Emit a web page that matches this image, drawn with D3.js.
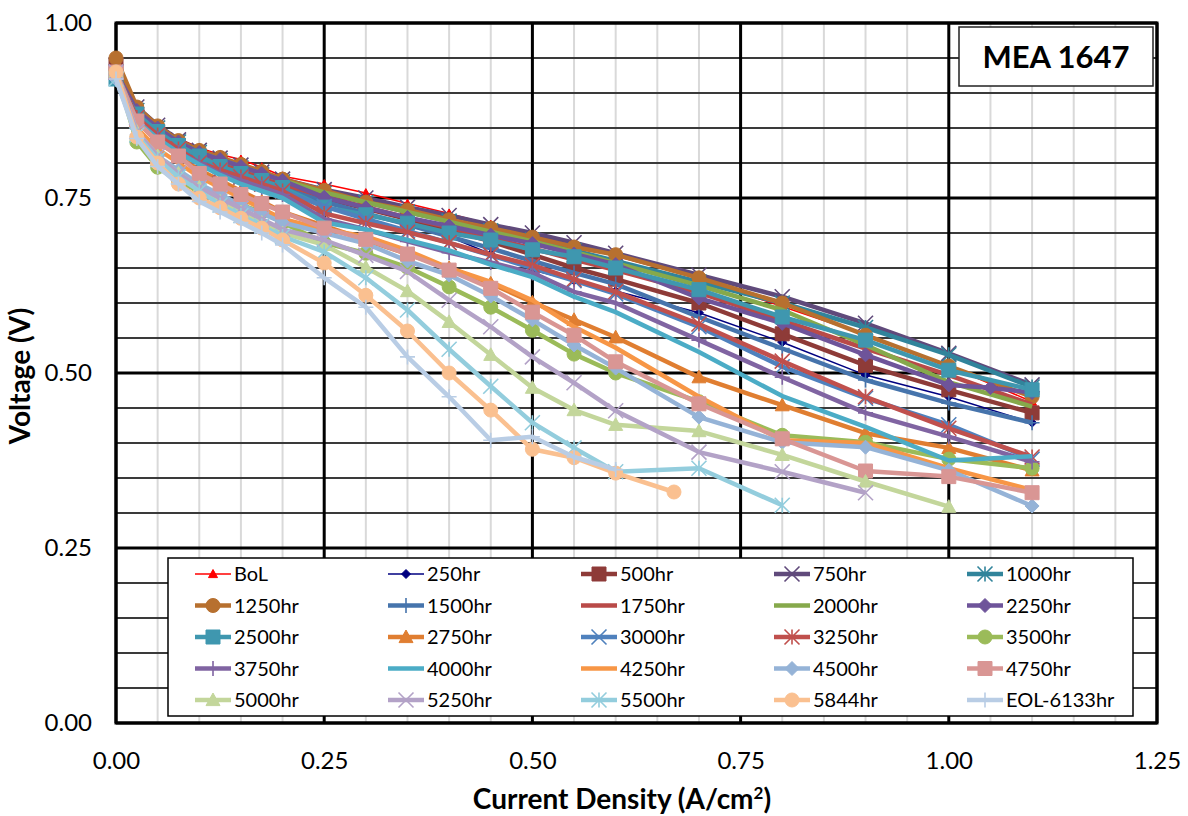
<!DOCTYPE html>
<html lang="en">
<head>
<meta charset="UTF-8">
<title>MEA 1647</title>
<script src="https://cdn.jsdelivr.net/npm/d3@7"></script>
<style>
    body { margin: 0; background: #fff; font-family: Lato, "Open Sans", sans-serif; }
</style>
</head>
<body>
<svg id="chart" width="1188" height="816"></svg>
<script>
// current density points (A/cm2); 0.67 and 1.05 are used by only one series each
const currentDensity = [0, 0.025, 0.05, 0.075, 0.1, 0.125, 0.15, 0.175, 0.2, 0.25, 0.3, 0.35, 0.4, 0.45, 0.5, 0.55, 0.6, 0.67, 0.7, 0.8, 0.9, 1.0, 1.05, 1.1];

const vBoL  = [0.95, 0.878, 0.852, 0.835, 0.822, 0.812, 0.805, 0.794, 0.781, 0.770, 0.757, 0.742, 0.728, 0.712, 0.697, 0.682, 0.667, null, 0.635, 0.595, 0.555, 0.510, null, 0.459];
const v250  = [0.93, 0.870, 0.845, 0.825, 0.810, 0.798, 0.786, 0.774, 0.757, 0.743, 0.728, 0.713, 0.695, 0.670, 0.647, 0.632, 0.617, null, 0.586, 0.544, 0.497, 0.466, null, 0.429];
const v500  = [0.94, 0.870, 0.845, 0.825, 0.810, 0.800, 0.790, 0.780, 0.770, 0.750, 0.735, 0.720, 0.705, 0.688, 0.669, 0.650, 0.634, null, 0.600, 0.556, 0.511, 0.476, null, 0.443];
const v750  = [0.94, 0.880, 0.854, 0.833, 0.818, 0.807, 0.797, 0.787, 0.777, 0.762, 0.750, 0.737, 0.725, 0.712, 0.700, 0.686, 0.671, null, 0.640, 0.609, 0.571, 0.528, null, 0.483];
const v1000 = [0.93, 0.875, 0.850, 0.830, 0.815, 0.803, 0.793, 0.783, 0.773, 0.757, 0.744, 0.730, 0.717, 0.703, 0.690, 0.675, 0.660, null, 0.630, 0.600, 0.565, 0.526, null, 0.480];
const v1250 = [0.95, 0.880, 0.853, 0.832, 0.818, 0.808, 0.798, 0.788, 0.777, 0.761, 0.744, 0.733, 0.719, 0.707, 0.694, 0.680, 0.669, null, 0.636, 0.600, 0.554, 0.510, null, 0.466];
const v1500 = [0.92, 0.865, 0.840, 0.820, 0.805, 0.795, 0.785, 0.775, 0.765, 0.745, 0.728, 0.712, 0.695, 0.678, 0.660, 0.643, 0.627, null, 0.580, 0.535, 0.490, 0.457, null, 0.429];
const v1750 = [0.93, 0.870, 0.845, 0.825, 0.810, 0.800, 0.790, 0.780, 0.770, 0.752, 0.737, 0.722, 0.708, 0.693, 0.678, 0.662, 0.647, null, 0.615, 0.575, 0.535, 0.497, null, 0.455];
const v2000 = [0.93, 0.870, 0.850, 0.830, 0.815, 0.805, 0.795, 0.785, 0.775, 0.758, 0.744, 0.730, 0.716, 0.702, 0.688, 0.673, 0.657, null, 0.625, 0.590, 0.540, 0.487, null, 0.452];
const v2250 = [0.93, 0.875, 0.850, 0.830, 0.815, 0.805, 0.795, 0.785, 0.775, 0.751, 0.736, 0.722, 0.710, 0.697, 0.685, 0.670, 0.655, null, 0.607, 0.571, 0.526, 0.483, 0.479, 0.472];
const v2500 = [0.92, 0.870, 0.845, 0.825, 0.810, 0.795, 0.785, 0.775, 0.765, 0.737, 0.726, 0.714, 0.700, 0.690, 0.676, 0.666, 0.650, null, 0.619, 0.580, 0.547, 0.504, null, 0.476];
const v2750 = [0.93, 0.860, 0.830, 0.810, 0.790, 0.775, 0.760, 0.745, 0.730, 0.710, 0.690, 0.670, 0.650, 0.628, 0.601, 0.576, 0.551, null, 0.494, 0.454, 0.414, 0.393, null, 0.361];
const v3000 = [0.93, 0.865, 0.840, 0.820, 0.800, 0.790, 0.780, 0.770, 0.760, 0.738, 0.720, 0.703, 0.686, 0.668, 0.650, 0.632, 0.613, null, 0.566, 0.509, 0.464, 0.426, null, 0.377];
const v3250 = [0.93, 0.865, 0.840, 0.820, 0.800, 0.790, 0.780, 0.770, 0.760, 0.728, 0.714, 0.701, 0.686, 0.669, 0.654, 0.634, 0.616, null, 0.570, 0.517, 0.466, 0.421, null, 0.380];
const v3500 = [0.93, 0.830, 0.794, 0.773, 0.760, 0.750, 0.740, 0.730, 0.715, 0.686, 0.671, 0.651, 0.623, 0.594, 0.561, 0.527, 0.500, null, 0.459, 0.411, 0.401, 0.377, null, 0.364];
const v3750 = [0.93, 0.860, 0.835, 0.815, 0.800, 0.785, 0.775, 0.765, 0.755, 0.720, 0.705, 0.688, 0.672, 0.658, 0.643, 0.616, 0.600, null, 0.547, 0.494, 0.443, 0.409, null, 0.373];
const v4000 = [0.93, 0.860, 0.835, 0.815, 0.798, 0.783, 0.770, 0.760, 0.750, 0.715, 0.705, 0.690, 0.675, 0.655, 0.637, 0.609, 0.587, null, 0.530, 0.467, 0.423, 0.375, null, 0.381];
const v4250 = [0.93, 0.850, 0.820, 0.800, 0.780, 0.765, 0.750, 0.735, 0.720, 0.705, 0.695, 0.675, 0.650, 0.630, 0.604, 0.566, 0.536, null, 0.466, 0.404, 0.400, 0.364, null, 0.333];
const v4500 = [0.92, 0.840, 0.810, 0.790, 0.770, 0.755, 0.740, 0.728, 0.715, 0.700, 0.685, 0.660, 0.640, 0.610, 0.576, 0.540, 0.507, null, 0.437, 0.401, 0.394, 0.361, null, 0.310];
const v4750 = [0.93, 0.860, 0.830, 0.810, 0.785, 0.770, 0.755, 0.742, 0.730, 0.707, 0.691, 0.670, 0.647, 0.621, 0.587, 0.554, 0.516, null, 0.456, 0.406, 0.360, 0.352, null, 0.329];
const v5000 = [0.93, 0.845, 0.810, 0.785, 0.765, 0.745, 0.730, 0.715, 0.700, 0.683, 0.651, 0.617, 0.573, 0.526, 0.479, 0.447, 0.426, null, 0.417, 0.383, 0.345, 0.309, null, null];
const v5250 = [0.93, 0.845, 0.810, 0.785, 0.765, 0.750, 0.735, 0.720, 0.705, 0.690, 0.668, 0.645, 0.604, 0.566, 0.523, 0.486, 0.446, null, 0.387, 0.359, 0.329, null, null, null];
const v5500 = [0.92, 0.840, 0.805, 0.780, 0.760, 0.740, 0.725, 0.710, 0.695, 0.673, 0.636, 0.590, 0.534, 0.481, 0.429, 0.393, 0.359, null, 0.364, 0.311, null, null, null, null];
const v5844 = [0.93, 0.837, 0.800, 0.770, 0.750, 0.736, 0.721, 0.707, 0.690, 0.657, 0.611, 0.560, 0.500, 0.447, 0.391, 0.379, 0.357, 0.330, null, null, null, null, null, null];
const vEOL  = [0.92, 0.835, 0.795, 0.770, 0.745, 0.730, 0.715, 0.700, 0.683, 0.636, 0.594, 0.523, 0.466, 0.404, 0.409, 0.380, 0.362, null, null, null, null, null, null, null];

const seriesNames = ["BoL", "250hr", "500hr", "750hr", "1000hr", "1250hr", "1500hr", "1750hr", "2000hr", "2250hr", "2500hr", "2750hr", "3000hr", "3250hr", "3500hr", "3750hr", "4000hr", "4250hr", "4500hr", "4750hr", "5000hr", "5250hr", "5500hr", "5844hr", "EOL-6133hr"];
const seriesValues = [vBoL, v250, v500, v750, v1000, v1250, v1500, v1750, v2000, v2250, v2500, v2750, v3000, v3250, v3500, v3750, v4000, v4250, v4500, v4750, v5000, v5250, v5500, v5844, vEOL];
const seriesColors = ["#FF0000", "#000080", "#8E3B38", "#604A7B", "#31849B", "#B7702F", "#4674AC", "#B94A48", "#86A94B", "#6E549A", "#3F97AF", "#E07E31", "#4F81BD", "#C0504D", "#9BBB59", "#8064A2", "#4BACC6", "#F79646", "#95B3D7", "#D99694", "#C3D69B", "#B3A2C7", "#93CDDD", "#FAC090", "#B9CDE5"];
const seriesMarkers = ["triangle", "diamond", "square", "x", "star", "circle", "plus", "none", "none", "diamond", "square", "triangle", "x", "star", "circle", "plus", "none", "none", "diamond", "square", "triangle", "x", "star", "circle", "plus"];

const xTicks = [0, 0.25, 0.5, 0.75, 1.0, 1.25];
const yTicks = [0, 0.25, 0.5, 0.75, 1.0];

const svg = d3.select("#chart");
const x = d3.scaleLinear().domain([0, 1.25]).range([116, 1157]);
const y = d3.scaleLinear().domain([0, 1]).range([723, 23]);

// grid
const grid = svg.append("g");
grid.selectAll(".vminor").data(d3.range(1, 25).map(i => i * 0.05))
    .enter().append("line")
    .attr("x1", d => x(d)).attr("x2", d => x(d))
    .attr("y1", y(0)).attr("y2", y(1))
    .attr("stroke", "#D9D9D9").attr("stroke-width", 2);
grid.selectAll(".hminor").data(d3.range(1, 20).map(i => i * 0.05))
    .enter().append("line")
    .attr("x1", x(0)).attr("x2", x(1.25))
    .attr("y1", d => y(d)).attr("y2", d => y(d))
    .attr("stroke", "#3a3a3a").attr("stroke-width", 2);
grid.selectAll(".vmajor").data(xTicks)
    .enter().append("line")
    .attr("x1", d => x(d)).attr("x2", d => x(d))
    .attr("y1", y(0)).attr("y2", y(1))
    .attr("stroke", "#000").attr("stroke-width", 3);
grid.selectAll(".hmajor").data(yTicks)
    .enter().append("line")
    .attr("x1", x(0)).attr("x2", x(1.25))
    .attr("y1", d => y(d)).attr("y2", d => y(d))
    .attr("stroke", "#000").attr("stroke-width", 3);
svg.append("rect")
    .attr("x", x(0)).attr("y", y(1))
    .attr("width", x(1.25) - x(0)).attr("height", y(0) - y(1))
    .attr("fill", "none").attr("stroke", "#000").attr("stroke-width", 3);

// axes
const xAxis = svg.append("g")
    .attr("transform", `translate(0,${y(0)})`)
    .call(d3.axisBottom(x).tickValues(xTicks).tickFormat(d3.format(".2f")).tickSize(0).tickPadding(29));
const yAxis = svg.append("g")
    .attr("transform", `translate(${x(0)},0)`)
    .call(d3.axisLeft(y).tickValues(yTicks).tickFormat(d3.format(".2f")).tickSize(0).tickPadding(24));
[xAxis, yAxis].forEach(a => {
    a.select(".domain").remove();
    a.selectAll("text").attr("font-family", "Lato, sans-serif").attr("font-size", 24).attr("fill", "#000");
});

svg.append("text")
    .attr("x", 622).attr("y", 809)
    .attr("text-anchor", "middle")
    .attr("font-size", 28).attr("font-weight", "bold")
    .html("Current Density (A/cm<tspan baseline-shift='super' font-size='17'>2</tspan>)");
svg.append("text")
    .attr("transform", "translate(30,376) rotate(-90)")
    .attr("text-anchor", "middle")
    .attr("font-size", 28).attr("font-weight", "bold")
    .text("Voltage (V)");

// markers
function markerPath(type, s) {
    const h = s / 2;
    switch (type) {
        case "triangle": return `M0,${-h}L${h},${h * 0.8}L${-h},${h * 0.8}Z`;
        case "diamond": return `M0,${-h}L${h},0L0,${h}L${-h},0Z`;
        case "square": return `M${-h},${-h}H${h}V${h}H${-h}Z`;
        case "circle": return d3.symbol(d3.symbolCircle, Math.PI * h * h)();
        case "x": return `M${-h},${-h}L${h},${h}M${-h},${h}L${h},${-h}`;
        case "star": return `M${-h},${-h}L${h},${h}M${-h},${h}L${h},${-h}M0,${-h}L0,${h}`;
        case "plus": return `M0,${-h}L0,${h}M${-h},0L${h},0`;
    }
    return "";
}
const strokeMarkers = ["x", "star", "plus"];

function drawMarker(g, type, color, thin, cx, cy) {
    if (type === "none") return;
    const s = thin ? 9 : (strokeMarkers.includes(type) ? 15 : 14);
    const p = g.append("path")
        .attr("d", markerPath(type, s))
        .attr("transform", `translate(${cx},${cy})`);
    if (strokeMarkers.includes(type)) {
        p.attr("fill", "none").attr("stroke", color).attr("stroke-width", 1.6);
    } else {
        p.attr("fill", color).attr("stroke", color).attr("stroke-width", 1);
    }
}

const line = d3.line().x(d => x(d[0])).y(d => y(d[1]));
const plot = svg.append("g");
seriesNames.forEach((name, i) => {
    const pts = currentDensity.map((c, j) => [c, seriesValues[i][j]]).filter(d => d[1] !== null);
    const thin = i < 2;
    const g = plot.append("g");
    g.append("path")
        .datum(pts)
        .attr("d", line)
        .attr("fill", "none")
        .attr("stroke", seriesColors[i])
        .attr("stroke-width", thin ? 1.5 : 4.5)
        .attr("stroke-linejoin", "round");
    pts.forEach(d => drawMarker(g, seriesMarkers[i], seriesColors[i], thin, x(d[0]), y(d[1])));
});

// legend
const legend = svg.append("g");
legend.append("rect")
    .attr("x", 168).attr("y", 558).attr("width", 965).attr("height", 158)
    .attr("fill", "#fff").attr("stroke", "#000").attr("stroke-width", 1.5);
seriesNames.forEach((name, i) => {
    const col = i % 5, row = Math.floor(i / 5);
    const lx = 195 + col * 193, ly = 574 + row * 31.5;
    const thin = i < 2;
    const g = legend.append("g");
    g.append("line")
        .attr("x1", lx).attr("x2", lx + 36).attr("y1", ly).attr("y2", ly)
        .attr("stroke", seriesColors[i]).attr("stroke-width", thin ? 1.5 : 4.5);
    drawMarker(g, seriesMarkers[i], seriesColors[i], thin, lx + 18, ly);
    g.append("text")
        .attr("x", lx + 39).attr("y", ly + 7)
        .attr("font-size", 20).attr("fill", "#000")
        .text(name);
});

// label box
svg.append("rect")
    .attr("x", 959).attr("y", 27).attr("width", 194).attr("height", 59)
    .attr("fill", "#fff").attr("stroke", "#222").attr("stroke-width", 1.5);
svg.append("text")
    .attr("x", 1056).attr("y", 68)
    .attr("text-anchor", "middle")
    .attr("font-size", 31).attr("font-weight", "bold")
    .text("MEA 1647");
</script>
</body>
</html>
